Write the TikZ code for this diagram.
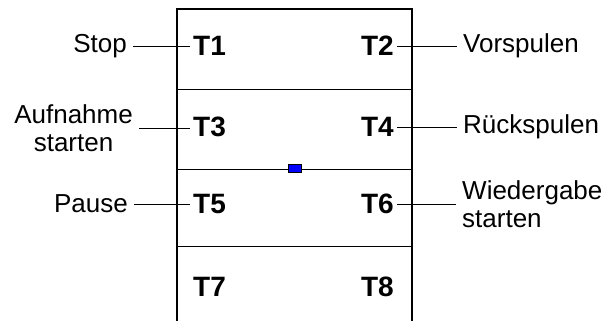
\documentclass[tikz,border=0pt]{standalone}
\usepackage{fontspec}
\setmainfont{Liberation Sans}
\begin{document}
\begin{tikzpicture}[x=1pt,y=-1pt]
    \tikzset{lab/.style={font=\fontsize{26}{28}\selectfont,inner xsep=6pt,inner ysep=0pt},
        tkey/.style={font=\fontsize{28}{28}\selectfont\bfseries,inner xsep=3pt,inner ysep=0pt},
        wire/.style={line width=0.8pt}}
    \useasboundingbox (0,0) rectangle (607,321);
    \draw[line width=2pt] (177,321)--(177,9)--(412,9)--(412,321);
    \foreach \y in {89,169,246}
    \draw[line width=0.9pt] (177,\y)--(413,\y);
    \node[draw,fill=blue,line width=1.2pt,inner sep=0pt,minimum width=13pt,minimum height=8pt] (knob) at (295,168.5) {};
    \foreach \i/\y in {1/46,2/127,3/204,4/287}{
        \pgfmathtruncatemacro{\l}{2*\i-1}
        \pgfmathtruncatemacro{\r}{2*\i}
        \node[tkey,anchor=west] (t\l) at (190,\y) {T\l};
        \node[tkey,anchor=east] (t\r) at (397,\y) {T\r};
    }
    \node[lab,anchor=east] (stop) at (133,46) {Stop};
    \node[lab,anchor=east,align=center] (aufn) at (139,128) {Aufnahme\\starten};
    \node[lab,anchor=east] (pause) at (134,204) {Pause};
    \node[lab,anchor=west] (vor) at (457,46) {Vorspulen};
    \node[lab,anchor=west] (rueck) at (457,127) {Rückspulen};
    \node[lab,anchor=west,align=left] (wied) at (456,204) {Wiedergabe\\starten};
    \foreach \a/\b in {stop/t1,aufn/t3,pause/t5}
    \draw[wire] (\a.east)--(\a.east-|\b.west);
    \foreach \a/\b in {t2/vor,t4/rueck,t6/wied}
    \draw[wire] (\a.east)--(\a.east-|\b.west);
\end{tikzpicture}
\end{document}
